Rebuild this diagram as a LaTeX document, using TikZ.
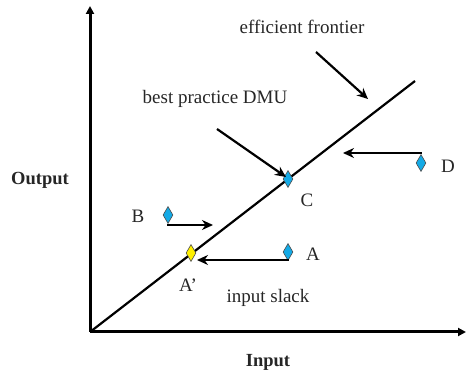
\documentclass[tikz,border=0pt]{standalone}
\usepackage{fontspec}
\setmainfont{Liberation Serif}
\usetikzlibrary{arrows.meta,shapes.geometric}
\definecolor{dmublue}{RGB}{20,170,230}
\definecolor{dmuyellow}{RGB}{255,240,0}
\tikzset{
  axis/.style={line width=3pt,-{Triangle[length=8pt,width=8pt]}},
  pointer/.style={line width=2.2pt,-{Stealth[length=11pt,width=10pt]}},
  dmu/.style={diamond,draw=black!70,line width=0.6pt,fill=dmublue,minimum width=10pt,minimum height=17pt,inner sep=0pt,aspect=0.55},
  lbl/.style={font=\fontsize{19}{21}\selectfont,inner sep=0pt,text=black!85},
  blbl/.style={lbl,font=\fontsize{18.5}{21}\selectfont\bfseries}
}
\begin{document}
\begin{tikzpicture}[x=1pt,y=-1pt]
\useasboundingbox (0,0) rectangle (467,374);
% axes
\coordinate (O) at (90,332);
\coordinate (ytop) at (90,6);
\coordinate (xend) at (466,332);
\draw[axis] (O) -- (ytop);
\draw[axis] (O) -- (xend);
% frontier
\coordinate (F) at (415,81);
\draw[line width=2.2pt] (O) -- (F);
% DMUs
\node[dmu] (C) at (288,179) {};
\node[dmu] (D) at (421,163) {};
\node[dmu] (B) at (168,215) {};
\node[dmu] (A) at (288,252) {};
\node[dmu,fill=dmuyellow] (Ap) at (191,253) {};
% labels
\node[lbl] (Clbl) at (307,200) {C};
\node[lbl] (Dlbl) at (448,166) {D};
\node[lbl] (Blbl) at (138,216) {B};
\node[lbl] (Albl) at (313,254) {A};
\node[lbl] (Aplbl) at (188,285) {A'};
\node[lbl] (slack) at (268,298) {input slack};
\node[lbl] (eff) at (302,27) {efficient frontier};
\node[lbl] (best) at (215,99) {best practice DMU};
\node[blbl] (out) at (40,180) {Output};
\node[blbl] (in) at (268,362) {Input};
% pointers
\coordinate (effS) at (316,52);
\coordinate (effE) at (368,99);
\draw[pointer] (effS) -- (effE);
\coordinate (bestS) at (217,129);
\coordinate (bestE) at (286,177);
\draw[pointer] (bestS) -- (bestE);
\coordinate (Dend) at (343,153);
\draw[pointer] (D.north) -- (D.north |- Dend) -- (Dend);
\coordinate (Bend) at (213,225);
\draw[pointer] (B.south) -- (B.south |- Bend) -- (Bend);
\coordinate (Aend) at (197,260);
\draw[pointer] (A.south) -- (A.south |- Aend) -- (Aend);
\end{tikzpicture}
\end{document}
